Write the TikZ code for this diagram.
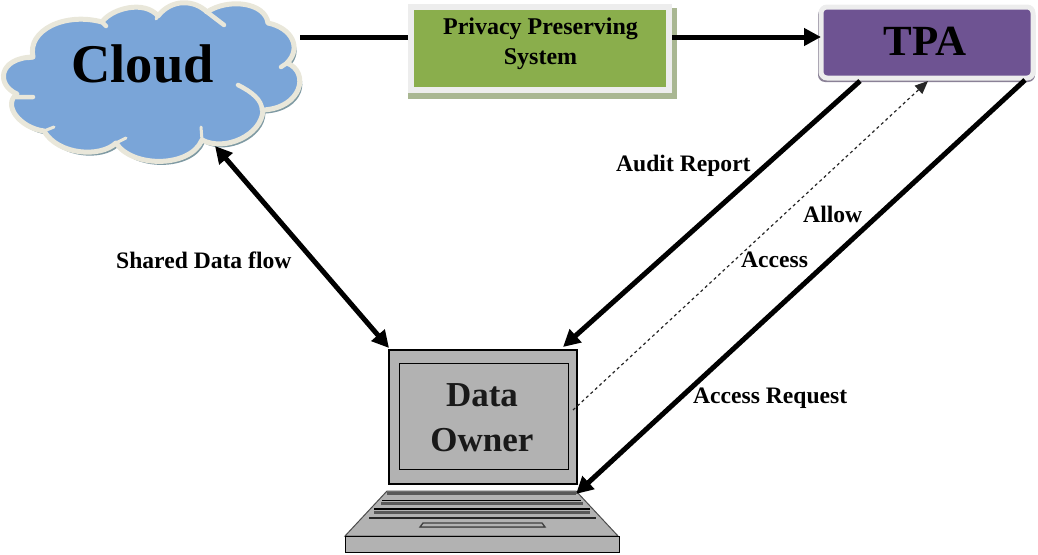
\documentclass[tikz,border=0pt]{standalone}
\usepackage{fontspec}
\setmainfont{Liberation Serif}
\usetikzlibrary{arrows.meta}
\definecolor{cloudblue}{HTML}{7AA5D8}
\definecolor{cloudedge}{HTML}{E9E7DA}
\definecolor{cloudshadow}{HTML}{7F9AA3}
\definecolor{ppsgreen}{HTML}{8AAE4C}
\definecolor{tpapurple}{HTML}{6E5392}
\definecolor{lapgrey}{HTML}{B2B2B2}
\tikzset{
  lbl/.style={font=\fontsize{23.6}{26}\selectfont\bfseries,inner sep=0pt},
  heavy/.style={line width=5pt,-{Triangle[length=17pt,width=17pt]}},
  heavyboth/.style={line width=5pt,{Triangle[length=17pt,width=17pt]}-{Triangle[length=17pt,width=17pt]}},
  plainheavy/.style={line width=5pt},
  thindash/.style={line width=1.2pt,dash pattern=on 3pt off 3pt,-{Triangle[length=13pt,width=11pt]},black!85},
}
\def\cloudpath{(33,57) .. controls (27,30) and (65,12) .. (102,22)
  .. controls (112,8) and (145,0) .. (158,16)
  .. controls (172,-2) and (195,0) .. (207,12)
  .. controls (228,-2) and (265,2) .. (268,23)
  .. controls (292,28) and (302,48) .. (287,63)
  .. controls (310,72) and (302,108) .. (263,110)
  .. controls (262,135) and (225,152) .. (202,140)
  .. controls (190,168) and (132,168) .. (116,143)
  .. controls (100,158) and (58,155) .. (44,131)
  .. controls (20,128) and (2,105) .. (17,94)
  .. controls (-4,85) and (-2,58) .. (33,57) -- cycle}
\begin{document}
\begin{tikzpicture}[x=1pt,y=-1pt]
\useasboundingbox (0,0) rectangle (1038,554);
% cloud
\fill[cloudshadow,shift={(2.5,3.5)}] \cloudpath;
\path[fill=cloudblue,draw=cloudedge,line width=5pt,line join=round] \cloudpath;
\draw[cloudedge,line width=4.5pt,line cap=round]
  (33,97) -- (16,97) (238,85) .. controls (252,92) and (262,100) .. (262,110)
  (207,12) -- (224,25) (287,63) -- (281,67) (102,22) -- (106,26) (33,57) -- (28,58);
\draw[cloudedge,line width=3pt,line cap=round]
  (44,131) -- (54,127) (116,143) -- (126,138) (202,140) -- (201,127) (158,16) -- (156,19);
\node[font=\fontsize{54.5}{60}\selectfont\bfseries,inner sep=0pt] (cloud) at (142.5,64) {Cloud};
% privacy box
\fill[black!30!ppsgreen!60!white,opacity=.9] (408,8) rectangle (677,99);
\node[draw=black!7,line width=6pt,fill=ppsgreen,minimum width=258pt,minimum height=83pt,inner sep=0pt,anchor=north west] (pps) at (408,4) {};
\node[align=center,font=\fontsize{24}{30}\selectfont\bfseries,inner sep=0pt] (ppstext) at (540.5,43.5) {Privacy Preserving\\System};
% TPA
\fill[black!45!tpapurple!60!white,rounded corners=7pt] (818,8) rectangle (1035,82);
\node[draw=black!7,line width=5pt,fill=tpapurple,rounded corners=6pt,minimum width=212pt,minimum height=71pt,inner sep=0pt,anchor=north west] (tpa) at (818.5,4.5) {};
\node[font=\fontsize{43}{46}\selectfont\bfseries,inner sep=0pt] (tpatext) at (925,41) {TPA};
% laptop
\node[draw=black,line width=2.4pt,fill=lapgrey,minimum width=188pt,minimum height=134pt,inner sep=0pt,anchor=north west] (screen) at (388,349) {};
\node[draw=black,line width=1.4pt,fill=lapgrey,minimum width=169pt,minimum height=106pt,inner sep=0pt,anchor=north west] (inner) at (398.5,363) {};
\node[align=center,font=\fontsize{35}{45}\selectfont\bfseries,inner sep=0pt,text=black!90] (owner) at (482,418) {Data\\Owner};
\path[fill=lapgrey,draw=black!70,line width=1pt] (387,491) -- (576,491) -- (618,536) -- (345,536) -- cycle;
\draw[black!65,line width=3pt] (387,493) -- (576,493) (381,503) -- (583,503) (374,512) -- (590,512);
\draw[black,line width=1.6pt] (382,500.5) -- (581,500.5) (374,509) -- (590,509);
\draw[black!85,line width=2.2pt] (369,518) -- (596,518);
\path[fill=lapgrey,draw=black!75,line width=1.3pt] (423,523) -- (542,523) -- (545,527) -- (420,527) -- cycle;
\draw[black!65,line width=1.4pt] (420,527.5) -- (545,527.5);
\node[draw=black,line width=1.4pt,fill=lapgrey,minimum width=274pt,minimum height=16pt,inner sep=0pt,anchor=north west] (kb) at (345,536) {};
% connector ends
\coordinate (c1) at (300,37);
\coordinate (p1) at (408,37);
\coordinate (p2) at (672,37);
\coordinate (t1) at (821,37);
\coordinate (c2) at (215,146);
\coordinate (s1) at (389,348);
\coordinate (t2) at (860,81);
\coordinate (s2) at (563,347);
\coordinate (s3) at (573,410);
\coordinate (t3) at (928,81);
\coordinate (t4) at (1025,80);
\coordinate (k1) at (576,494);
\draw[plainheavy] (c1) -- (p1);
\draw[heavy] (p2) -- (t1);
\draw[heavyboth] (c2) -- (s1);
\draw[heavy] (t2) -- (s2);
\draw[thindash] (s3) -- (t3);
\draw[heavy] (t4) -- (k1);
% labels
\node[lbl,anchor=west] (l1) at (116,260) {Shared Data flow};
\node[lbl,anchor=west] (l2) at (616,166) {Audit Report};
\node[lbl,anchor=west] (l3) at (803,214) {Allow};
\node[lbl,anchor=west] (l4) at (741,260) {Access};
\node[lbl,anchor=west] (l5) at (693,398) {Access Request};
\end{tikzpicture}
\end{document}
